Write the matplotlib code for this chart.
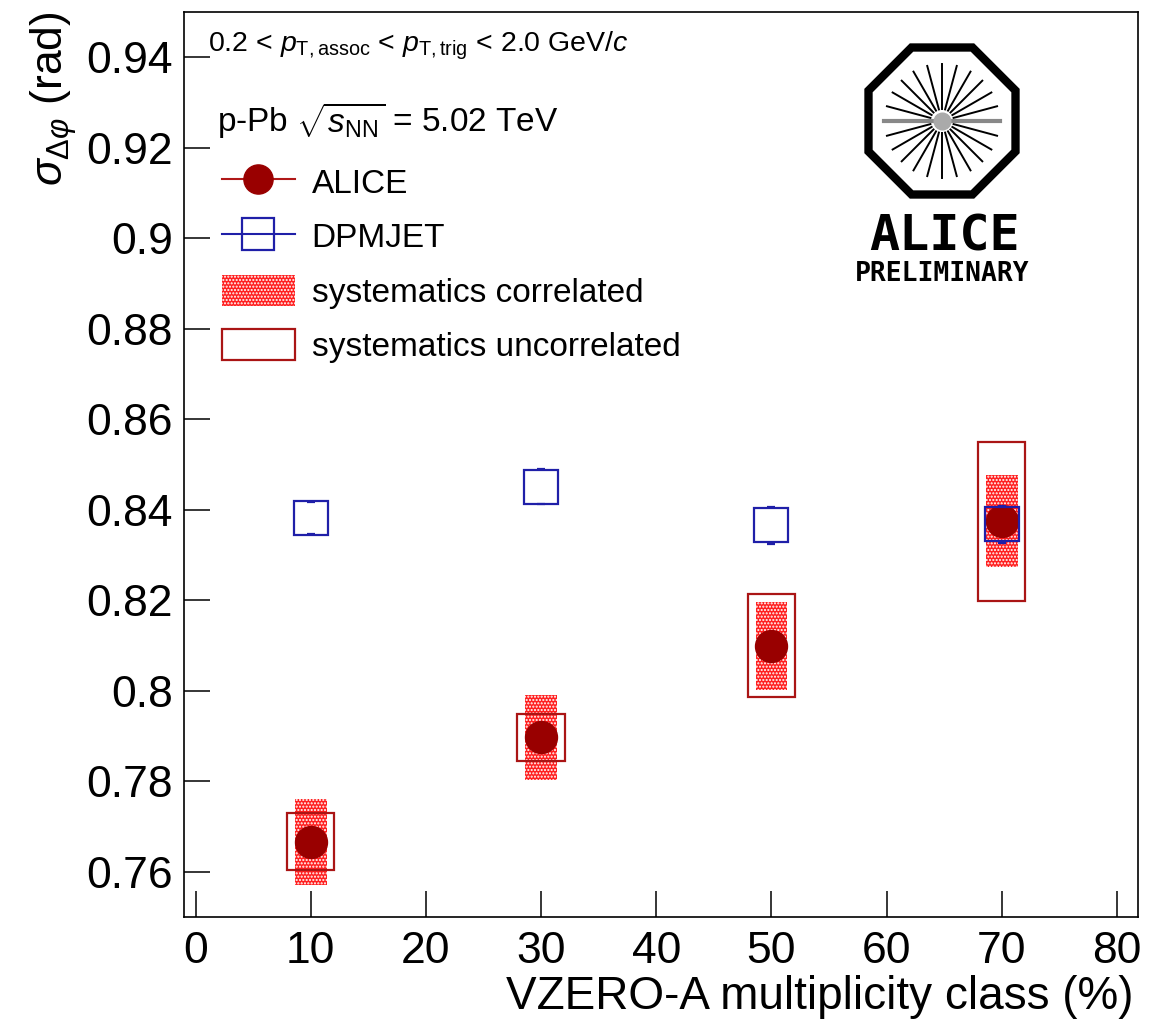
import numpy as np
import matplotlib
matplotlib.use("Agg")
import matplotlib.pyplot as plt
from matplotlib.lines import Line2D
from matplotlib.patches import Patch, Polygon

plt.rcParams['font.family'] = ['Liberation Sans', 'DejaVu Sans']
plt.rcParams['mathtext.fontset'] = 'custom'
plt.rcParams['mathtext.rm'] = 'Liberation Sans'
plt.rcParams['mathtext.it'] = 'Liberation Sans:italic'
plt.rcParams['mathtext.bf'] = 'Liberation Sans:bold'
plt.rcParams['hatch.linewidth'] = 1.0

# multiplicity classes (%)
classes = [10, 30, 50, 70]
# ALICE data
alice = [0.7666, 0.7898, 0.8100, 0.8375]
corr_lo = [0.7571, 0.7803, 0.8003, 0.8274]
corr_hi = [0.7762, 0.7991, 0.8197, 0.8477]
unc_lo = [0.7604, 0.7845, 0.7987, 0.8199]
unc_hi = [0.7730, 0.7950, 0.8215, 0.8549]
# DPMJET
dpm = [0.8382, 0.8451, 0.8366, 0.8368]
dpm_err = [0.0036, 0.0039, 0.0041, 0.0041]

xticks = [0, 10, 20, 30, 40, 50, 60, 70, 80]
yticks = [0.76, 0.78, 0.80, 0.82, 0.84, 0.86, 0.88, 0.90, 0.92, 0.94]
ytick_labels = ['0.76', '0.78', '0.8', '0.82', '0.84', '0.86', '0.88', '0.9', '0.92', '0.94']

dark_red = '#990000'
box_red = '#aa1515'
blue = '#1f1fa8'

fig = plt.figure(figsize=(11.7, 10.19), dpi=100)
ax = fig.add_axes([0.1573, 0.0998, 0.8151, 0.8887])

corr_h = np.array(corr_hi) - np.array(corr_lo)
unc_h = np.array(unc_hi) - np.array(unc_lo)

# correlated systematics: hatched red boxes
ax.bar(classes, corr_h, bottom=corr_lo, width=2.75, facecolor='#ff2020',
       edgecolor='white', hatch='.....', linewidth=0, zorder=2)
# uncorrelated systematics: open boxes
ax.bar(classes, unc_h, bottom=unc_lo, width=4.1, facecolor='none',
       edgecolor=box_red, linewidth=1.6, zorder=3)
# ALICE points
ax.plot(classes, alice, 'o', color=dark_red, ms=23, zorder=4)
# DPMJET
ax.errorbar(classes, dpm, yerr=dpm_err, fmt='s', ms=24, mfc='none', mec=blue,
            mew=1.6, ecolor=blue, elinewidth=0, capsize=3, capthick=1.6, zorder=5)

ax.set_xlim(-1, 81.8)
ax.set_ylim(0.75, 0.95)
ax.set_xticks(xticks)
ax.set_yticks(yticks)
ax.set_yticklabels(ytick_labels)
ax.tick_params(direction='in', length=19, width=1.1, labelsize=32)
ax.tick_params(axis='x', pad=10)
ax.tick_params(axis='y', pad=8)
for s in ax.spines.values():
    s.set_linewidth(1.2)

ax.set_xlabel('VZERO-A multiplicity class (%)', fontsize=33, loc='right')
ax.xaxis.set_label_coords(0.996, -0.064)
ax.set_ylabel(r'$\sigma_{\Delta\varphi}$ (rad)', fontsize=32, loc='top')
ax.yaxis.set_label_coords(-0.110, 1.0)

ax.text(0.025, 0.956, r'0.2 < $p_{\mathrm{T,assoc}}$ < $p_{\mathrm{T,trig}}$ < 2.0 GeV/$c$',
        transform=ax.transAxes, fontsize=20.5, va='baseline')
ax.text(0.035, 0.867, r'p-Pb $\sqrt{s_{\mathrm{NN}}}$ = 5.02 TeV',
        transform=ax.transAxes, fontsize=24, va='baseline')

handles = [
    Line2D([], [], color='#b01818', lw=1.5, marker='o', ms=21, mfc=dark_red, mec=dark_red),
    Line2D([], [], color=blue, lw=1.5, marker='s', ms=23, mfc='none', mec=blue, mew=1.6),
    Patch(facecolor='#ff2020', edgecolor='white', hatch='.....', linewidth=0),
    Patch(facecolor='none', edgecolor=box_red, linewidth=1.6),
]
labels = ['ALICE', 'DPMJET', 'systematics correlated', 'systematics uncorrelated']
ax.legend(handles, labels, loc='upper left', bbox_to_anchor=(0.0398, 0.8297),
          frameon=False, fontsize=24, handlelength=2.19, handleheight=1.05,
          handletextpad=0.5, labelspacing=0.62, borderpad=0, borderaxespad=0)

# ALICE preliminary logo
lax = fig.add_axes([840 / 1170, 1 - 295 / 1019, 205 / 1170, 255 / 1019])
lax.set_xlim(0, 205)
lax.set_ylim(0, 255)
lax.axis('off')
cx, cy = 102, 174
R = 73.5 / np.cos(np.pi / 8)
ang = np.pi / 8 + np.arange(8) * np.pi / 4
lax.add_patch(Polygon(np.c_[cx + R * np.cos(ang), cy + R * np.sin(ang)], closed=True,
                      fill=False, edgecolor='black', linewidth=6, joinstyle='miter'))
for a in np.arange(24) * np.pi / 12:
    if np.isclose(np.sin(a), 0):
        continue
    lax.plot([cx + 12 * np.cos(a), cx + 57 * np.cos(a)],
             [cy + 12 * np.sin(a), cy + 57 * np.sin(a)], color='black', lw=1.4)
lax.plot([cx - 58, cx + 58], [cy, cy], color='#888888', lw=3)
lax.plot(cx, cy, 'o', color='#aaaaaa', ms=12)
lax.text(104, 45, 'ALICE', fontsize=36, fontweight='bold', family='DejaVu Sans Mono',
         ha='center', va='baseline')
lax.text(102, 14, 'PRELIMINARY', fontsize=19, fontweight='bold', family='DejaVu Sans Mono',
         ha='center', va='baseline')

fig.savefig('out.png', dpi=100)
